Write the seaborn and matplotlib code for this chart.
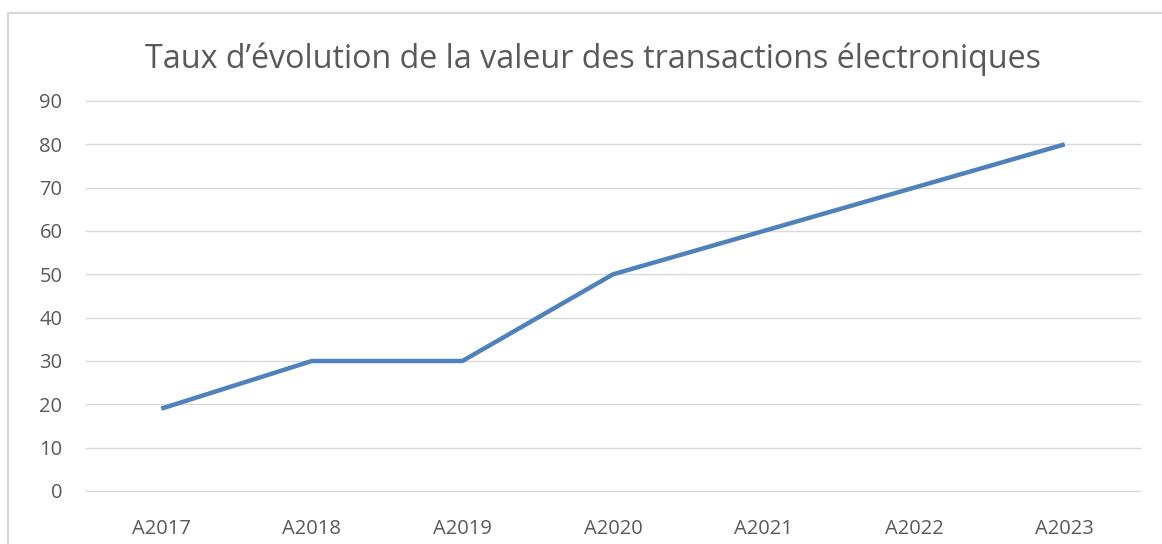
import matplotlib
matplotlib.use("Agg")
import matplotlib.pyplot as plt
import seaborn as sns
import pandas as pd
from matplotlib.patches import Rectangle

categories = ["A2017", "A2018", "A2019", "A2020", "A2021", "A2022", "A2023"]
values = [19, 30, 30, 50, 60, 70, 80]
yticks = [0, 10, 20, 30, 40, 50, 60, 70, 80, 90]
title = "Taux d\u2019évolution de la valeur des transactions électroniques"

sns.set_theme(style="white")
plt.rcParams['font.family'] = ['Open Sans', 'DejaVu Sans']

df = pd.DataFrame({"cat": categories, "val": values})

fig = plt.figure(figsize=(11.62, 5.44), dpi=100)
ax = fig.add_axes([86/1162, 1-491/544, (1140-86)/1162, (491-101)/544])

sns.lineplot(data=df, x="cat", y="val", ax=ax, color="#4F81BD", linewidth=3.2,
             sort=False, solid_capstyle="butt")

ax.set_ylim(0, 90)
ax.set_xlim(-0.5, len(categories) - 0.5)
ax.set_yticks(yticks)
ax.set_yticklabels([str(t) for t in yticks])
ax.grid(axis="y", color="#D9D9D9", linewidth=1.0)
for gl in ax.get_ygridlines():
    gl.set_clip_on(False)
ax.set_axisbelow(True)
for s in ax.spines.values():
    s.set_visible(False)
ax.tick_params(axis="both", length=0, labelsize=14.5, labelcolor="#595959")
ax.tick_params(axis="y", pad=17)
ax.tick_params(axis="x", pad=20)
ax.set_xlabel("")
ax.set_ylabel("")

fig.text(593/1162, 1-59/544, title, ha="center", va="center", fontsize=23.2,
         color="#595959")

fig.patches.append(Rectangle((8/1162, -0.1), 1.2, 1-13/544 + 0.1,
                             transform=fig.transFigure, fill=False,
                             edgecolor="#D9D9D9", linewidth=1.6))

fig.savefig("out.png", dpi=100)
